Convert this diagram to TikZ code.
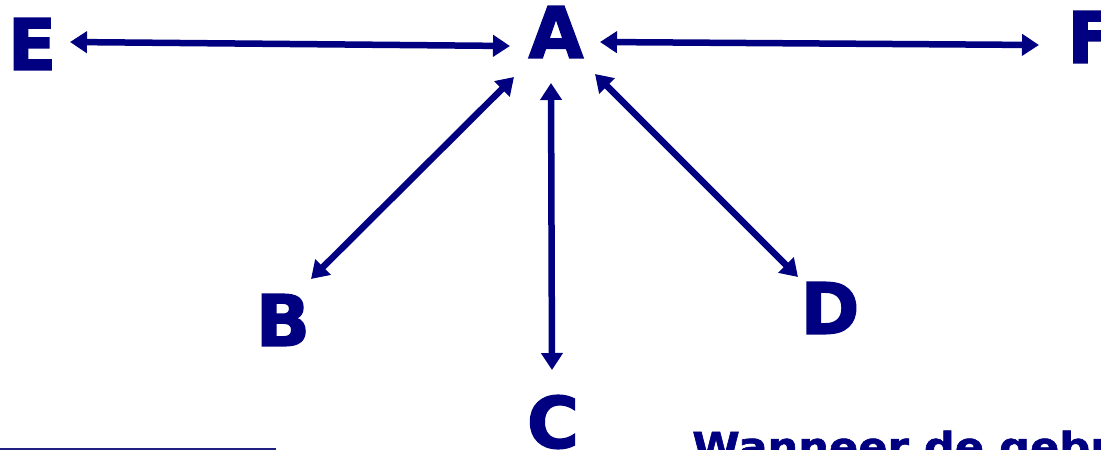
\documentclass[tikz,border=0pt]{standalone}
\usepackage{fontspec}
\usetikzlibrary{arrows.meta}
\newfontfamily\lblfont[FakeBold=2]{DejaVu Sans Bold}
\newfontfamily\widefont[FakeStretch=1.08,FakeBold=1.5]{DejaVu Sans Bold}
\definecolor{navyblue}{RGB}{0,0,128}
\begin{document}
\begin{tikzpicture}[x=1pt,y=-1pt,
  letter/.style={font=\lblfont\fontsize{71}{71}\selectfont, text=navyblue, inner sep=0pt},
  link/.style={draw=navyblue, line width=6.5pt,
    {Triangle[length=17pt,width=21pt]}-{Triangle[length=17pt,width=21pt]}},
  rulebar/.style={draw=navyblue!75!gray, line width=1.3pt}]
\clip (0,0) rectangle (1101,450);
\useasboundingbox (0,0) rectangle (1101,450);
\node[letter] (E) at (32,44) {E};
\node[letter] (A) at (556,32) {A};
\node[letter, anchor=west] (F) at (1067,37) {F};
\node[letter] (B) at (283,320) {B};
\node[letter] (C) at (553,422) {C};
\node[letter] (D) at (830,308) {D};
\node[font=\widefont\fontsize{40}{40}\selectfont, text=navyblue, inner sep=0pt, anchor=base west] (txt) at (692,461) {Wanneer de gebr};
\draw[link] ([shift={(38,-2)}]E.center) -- ([shift={(-46,14)}]A.center);
\draw[link] ([shift={(44,10)}]A.center) -- ([shift={(-28,8)}]F.west);
\draw[link] ([shift={(-42,45)}]A.center) -- ([shift={(28,-41)}]B.center);
\draw[link] ([shift={(-5,51)}]A.center) -- ([shift={(-1,-52)}]C.center);
\draw[link] ([shift={(39,42)}]A.center) -- ([shift={(-32,-31)}]D.center);
\draw[rulebar] (0,449) -- (276,449);
\end{tikzpicture}
\end{document}
